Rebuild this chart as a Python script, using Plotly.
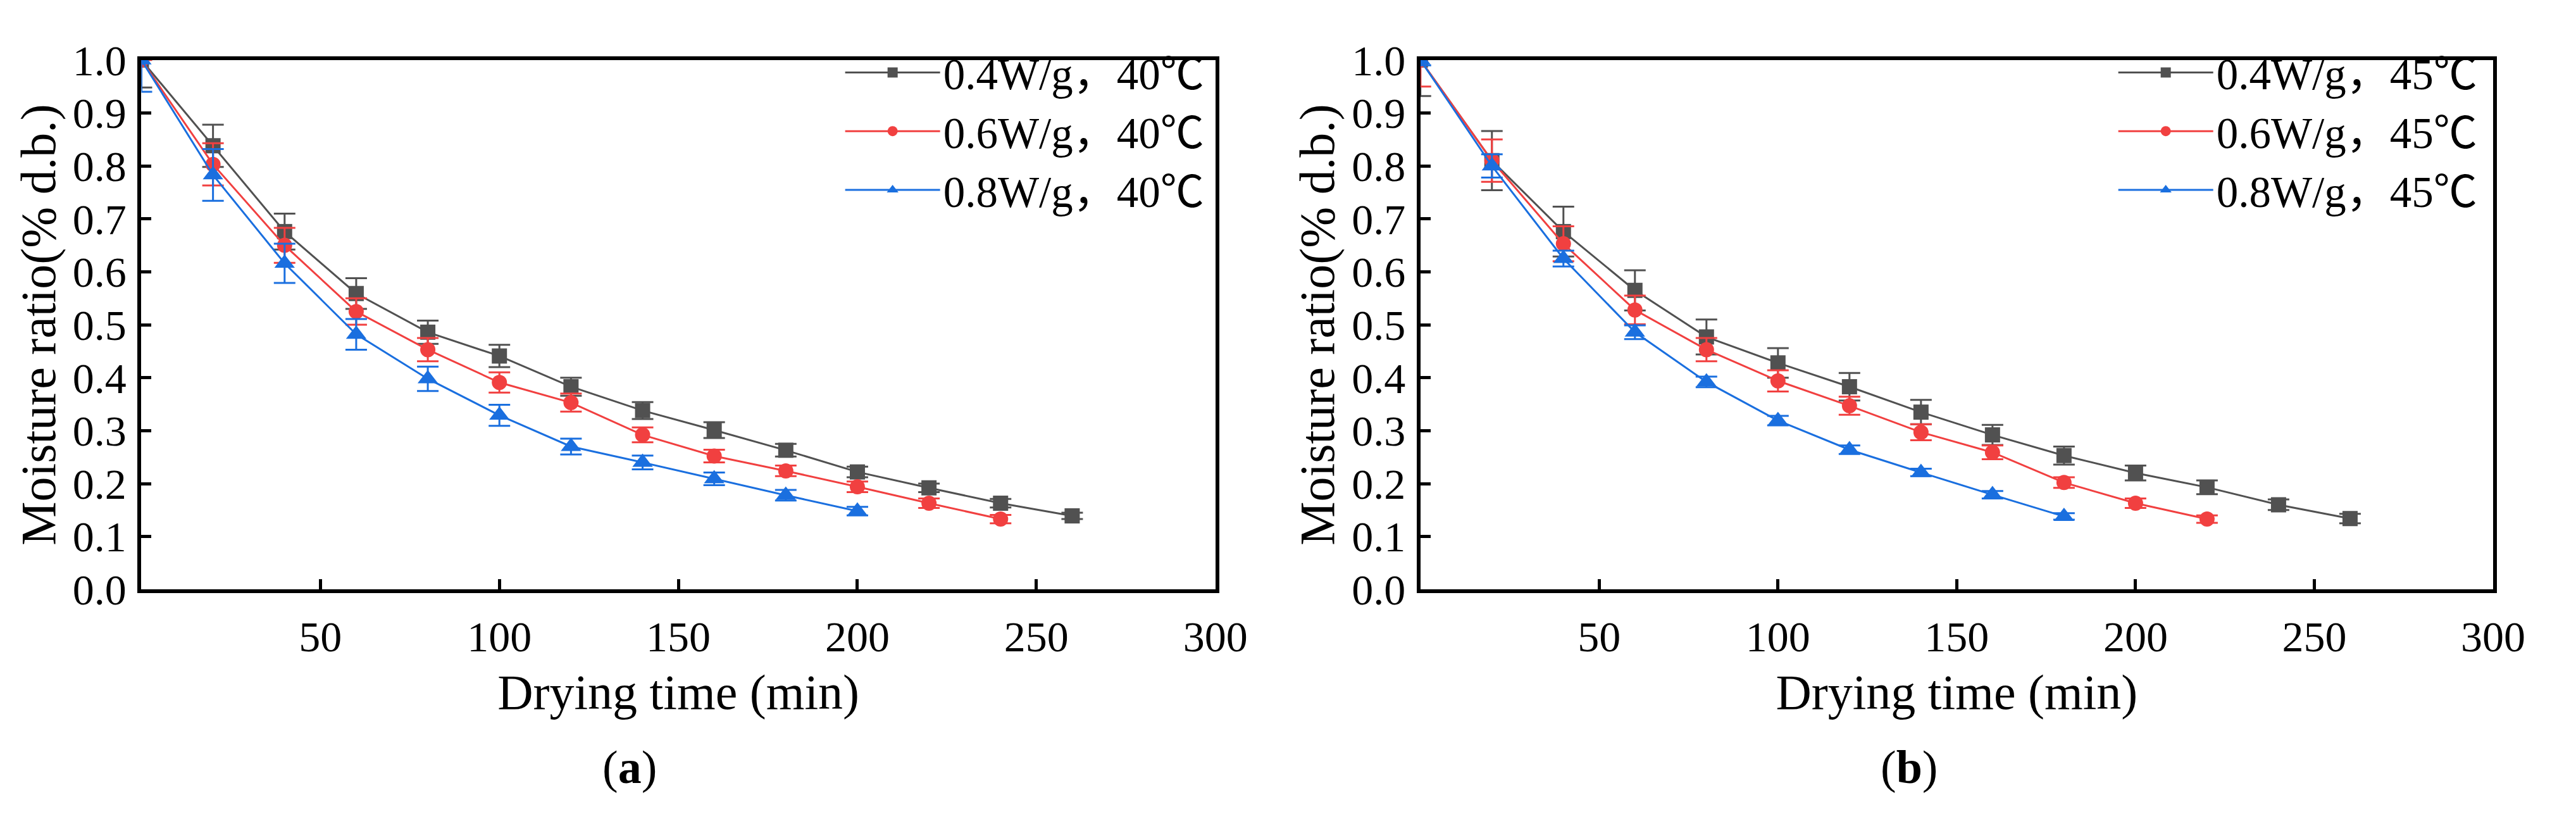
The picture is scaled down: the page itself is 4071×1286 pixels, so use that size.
import plotly.graph_objects as go

# drying time (min)
time = [0, 20, 40, 60, 80, 100, 120, 140, 160, 180, 200, 220, 240, 260]

# panel (a): 40 C
a_04 = [1.0, 0.838, 0.676, 0.559, 0.486, 0.441, 0.383, 0.338, 0.301, 0.263, 0.222, 0.192, 0.163, 0.139]
a_04_err = [0.052, 0.040, 0.034, 0.029, 0.022, 0.021, 0.017, 0.016, 0.015, 0.012, 0.010, 0.008, 0.008, 0.006]
a_06 = [1.0, 0.803, 0.650, 0.525, 0.453, 0.391, 0.353, 0.292, 0.252, 0.224, 0.194, 0.163, 0.133]
a_06_err = [0.0, 0.040, 0.033, 0.025, 0.022, 0.019, 0.017, 0.014, 0.012, 0.010, 0.010, 0.009, 0.008]
a_08 = [1.0, 0.783, 0.616, 0.482, 0.398, 0.329, 0.270, 0.240, 0.209, 0.178, 0.148]
a_08_err = [0.060, 0.049, 0.037, 0.029, 0.023, 0.020, 0.015, 0.013, 0.012, 0.010, 0.008]

# panel (b): 45 C
b_04 = [1.0, 0.810, 0.676, 0.565, 0.477, 0.428, 0.383, 0.335, 0.292, 0.253, 0.220, 0.193, 0.160, 0.134]
b_04_err = [0.068, 0.056, 0.047, 0.038, 0.033, 0.028, 0.026, 0.023, 0.019, 0.017, 0.014, 0.013, 0.010, 0.009]
b_06 = [1.0, 0.810, 0.653, 0.528, 0.453, 0.394, 0.347, 0.297, 0.259, 0.202, 0.163, 0.133]
b_06_err = [0.050, 0.040, 0.033, 0.027, 0.022, 0.020, 0.017, 0.015, 0.013, 0.010, 0.009, 0.007]
b_08 = [1.0, 0.800, 0.625, 0.486, 0.392, 0.319, 0.264, 0.221, 0.179, 0.138]
b_08_err = [0.010, 0.022, 0.015, 0.013, 0.010, 0.009, 0.008, 0.007, 0.007, 0.006]

x_ticks = [50, 100, 150, 200, 250, 300]
y_ticks = [0.0, 0.1, 0.2, 0.3, 0.4, 0.5, 0.6, 0.7, 0.8, 0.9, 1.0]

colors = ["#515151", "#F14040", "#1A6FDF"]
symbols = ["square", "circle", "triangle-up"]
sizes = [24, 24, 28]
powers = ["0.4W/g", "0.6W/g", "0.8W/g"]

# serif text, with a CJK fallback for the full-width comma
FONT = "Liberation Serif, Noto Sans CJK SC, serif"

fig = go.Figure()

panels = [
    ("40℃", [a_04, a_06, a_08], [a_04_err, a_06_err, a_08_err], "x", "y", "legend"),
    ("45℃", [b_04, b_06, b_08], [b_04_err, b_06_err, b_08_err], "x2", "y2", "legend2"),
]
for temp, series, errs, xa, ya, leg in panels:
    for i in range(3):
        n = len(series[i])
        fig.add_trace(go.Scatter(
            x=time[:n], y=series[i], name=powers[i] + "，" + temp,
            mode="lines+markers", xaxis=xa, yaxis=ya, legend=leg,
            line=dict(color=colors[i], width=3),
            marker=dict(symbol=symbols[i], size=sizes[i], color=colors[i]),
            error_y=dict(type="data", array=errs[i], color=colors[i], thickness=3, width=17),
        ))

axis_common = dict(
    showline=True, linecolor="black", linewidth=6, mirror=True,
    ticks="inside", ticklen=16, tickwidth=5, tickcolor="black",
    showgrid=False, zeroline=False,
    tickfont=dict(family=FONT, size=68, color="black"),
    title_font=dict(family=FONT, size=78, color="black"),
)

xa = dict(axis_common, range=[0, 300], tickvals=x_ticks, ticklabelstandoff=10,
          title=dict(text="Drying time (min)", standoff=24))
ya = dict(axis_common, range=[0, 1.0], tickvals=y_ticks, tickformat=".1f", ticklabelstandoff=4,
          title=dict(text="Moisture ratio(% d.b.)", standoff=4))

legend_common = dict(yanchor="top", y=0.985, xanchor="right", bgcolor="rgba(0,0,0,0)",
                     font=dict(family=FONT, size=69, color="black"),
                     itemwidth=150, tracegroupgap=0)

fig.update_layout(
    width=4071, height=1286,
    margin=dict(l=0, r=0, t=0, b=0),
    paper_bgcolor="white", plot_bgcolor="white",
    font=dict(family=FONT, color="black"),
    xaxis=dict(xa, domain=[0.0536, 0.4758], anchor="y"),
    yaxis=dict(ya, domain=[0.2675, 0.9588], anchor="x"),
    xaxis2=dict(xa, domain=[0.5564, 0.9781], anchor="y2"),
    yaxis2=dict(ya, domain=[0.2675, 0.9588], anchor="x2"),
    legend=dict(legend_common, x=0.4728),
    legend2=dict(legend_common, x=0.9733),
    annotations=[
        dict(text="(<b>a</b>)", x=1000 / 4071, y=1 - 1240 / 1286, xref="paper", yref="paper",
             xanchor="center", yanchor="middle", showarrow=False,
             font=dict(family=FONT, size=74, color="black")),
        dict(text="(<b>b</b>)", x=3047 / 4071, y=1 - 1240 / 1286, xref="paper", yref="paper",
             xanchor="center", yanchor="middle", showarrow=False,
             font=dict(family=FONT, size=74, color="black")),
    ],
)

fig.write_html("out.html")
